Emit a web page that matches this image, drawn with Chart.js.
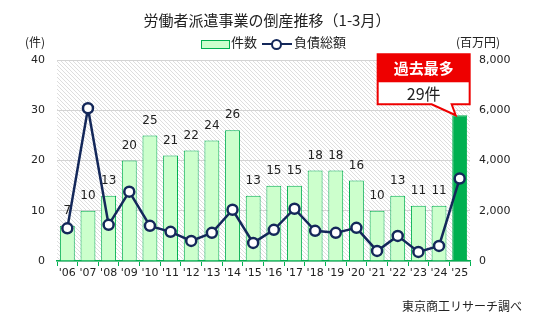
<!DOCTYPE html>
<html>
<head>
<meta charset="utf-8">
<script src="https://cdn.jsdelivr.net/npm/chart.js@4"></script>
<style>
  body { margin: 0; background: #fff; }
  #wrap { position: relative; width: 538px; height: 322px; overflow: hidden; font-family: "Noto Sans CJK JP", "DejaVu Sans", sans-serif; color: #222; }
  #chart { position: absolute; left: 0; top: 0; }
  .txt { position: absolute; white-space: nowrap; line-height: 1; }
  #title { left: 0; width: 534px; top: 12px; text-align: center; font-size: 15px; }
  #unitL { left: 25px; top: 36px; font-size: 12px; }
  #unitR { left: 456px; top: 36px; font-size: 12px; }
  #legend { left: 201px; top: 35px; font-size: 13px; }
  .legBox { position: absolute; left: 0; top: 5px; width: 27px; height: 7px; background: #ccffcc; border: 1px solid #00b050; }
  .legLine { position: absolute; left: 61px; top: 8px; width: 30px; height: 2px; background: #14285a; }
  .legDot { position: absolute; left: 70px; top: 4px; width: 7px; height: 7px; border: 2px solid #14285a; border-radius: 50%; background: #fff; }
  #footer { left: 402px; top: 300px; font-size: 12px; }
</style>
</head>
<body>
<div id="wrap">
  <canvas id="chart" width="538" height="322"></canvas>
  <div class="txt" id="title">労働者派遣事業の倒産推移（1-3月）</div>
  <div class="txt" id="unitL">(件)</div>
  <div class="txt" id="unitR">(百万円)</div>
  <div class="txt" id="legend">
    <span class="legBox"></span><span style="position:absolute;left:30px;top:0">件数</span>
    <span class="legLine"></span><span class="legDot"></span><span style="position:absolute;left:93px;top:0">負債総額</span>
  </div>
  <div class="txt" id="footer">東京商工リサーチ調べ</div>
</div>
<script>
const years = ["'06", "'07", "'08", "'09", "'10", "'11", "'12", "'13", "'14", "'15",
               "'16", "'17", "'18", "'19", "'20", "'21", "'22", "'23", "'24", "'25"];
const cases = [7, 10, 13, 20, 25, 21, 22, 24, 26, 13, 15, 15, 18, 18, 16, 10, 13, 11, 11, 29];
const debt = [1300, 6080, 1440, 2760, 1400, 1160, 800, 1120, 2040, 720,
              1240, 2080, 1200, 1120, 1320, 400, 1000, 360, 600, 3280];
const leftTicks = [0, 10, 20, 30, 40];
const rightTicks = [0, 2000, 4000, 6000, 8000];

const COLORS = {
  barFill: '#ccffcc',
  barBorder: '#00b050',
  barLast: '#00b050',
  line: '#14285a',
  grid: '#d4d4d4',
  hatch: '#dedede',
  red: '#ee0000',
  text: '#222'
};

function makeHatch() {
  const c = document.createElement('canvas');
  c.width = 4; c.height = 4;
  const g = c.getContext('2d');
  g.strokeStyle = COLORS.hatch;
  g.lineWidth = 1;
  g.beginPath();
  g.moveTo(-1, -1); g.lineTo(5, 5);
  g.moveTo(-1, 3); g.lineTo(1, 5);
  g.moveTo(3, -1); g.lineTo(5, 1);
  g.stroke();
  return c;
}

// hatched plot background
const hatchBg = {
  id: 'hatchBg',
  beforeDraw(chart) {
    const { ctx, chartArea: a } = chart;
    ctx.save();
    ctx.fillStyle = ctx.createPattern(makeHatch(), 'repeat');
    ctx.fillRect(a.left, a.top, a.right - a.left, a.bottom - a.top);
    ctx.restore();
  }
};

// values above bars + record callout
const barLabels = {
  id: 'barLabels',
  afterDatasetsDraw(chart) {
    const { ctx } = chart;
    const meta = chart.getDatasetMeta(1); // bar dataset
    ctx.save();
    ctx.font = '12px "DejaVu Sans", sans-serif';
    ctx.fillStyle = COLORS.text;
    ctx.textAlign = 'center';
    ctx.textBaseline = 'middle';
    meta.data.forEach((bar, i) => {
      if (i === cases.length - 1) return;
      ctx.fillText(String(cases[i]), bar.x, bar.y - 15);
    });

    const last = meta.data[cases.length - 1];
    const x = last.x, y = last.y;
    const L = x - 82, R = x + 10, T = y - 61, M = y - 33, B = y - 11;
    ctx.beginPath();
    ctx.moveTo(L, T); ctx.lineTo(R, T); ctx.lineTo(R, B);
    ctx.lineTo(x - 8, B); ctx.lineTo(x - 4, y); ctx.lineTo(x - 28, B);
    ctx.lineTo(L, B); ctx.closePath();
    ctx.fillStyle = '#fff';
    ctx.fill();
    ctx.strokeStyle = COLORS.red;
    ctx.lineWidth = 2;
    ctx.stroke();
    ctx.fillStyle = COLORS.red;
    ctx.fillRect(L, T, R - L, M - T);
    ctx.fillStyle = '#fff';
    ctx.font = 'bold 15px "Noto Sans CJK JP", sans-serif';
    ctx.fillText('過去最多', (L + R) / 2, (T + M) / 2);
    ctx.fillStyle = COLORS.text;
    ctx.font = '16px "Noto Sans CJK JP", sans-serif';
    ctx.fillText(cases[cases.length - 1] + '件', (L + R) / 2, (M + B) / 2 + 1);
    ctx.restore();
  }
};

new Chart(document.getElementById('chart').getContext('2d'), {
  data: {
    labels: years,
    datasets: [
      {
        type: 'line',
        label: '負債総額',
        data: debt,
        yAxisID: 'y1',
        borderColor: COLORS.line,
        borderWidth: 2.5,
        pointRadius: 5,
        pointBorderWidth: 2.5,
        pointBackgroundColor: '#fff',
        pointBorderColor: COLORS.line,
        tension: 0,
        order: 0
      },
      {
        type: 'bar',
        label: '件数',
        data: cases,
        yAxisID: 'y',
        backgroundColor: cases.map((v, i) => i === cases.length - 1 ? COLORS.barLast : COLORS.barFill),
        borderColor: COLORS.barBorder,
        borderWidth: 1,
        categoryPercentage: 1,
        barPercentage: 0.72,
        order: 1
      }
    ]
  },
  options: {
    responsive: false,
    animation: false,
    layout: { padding: { top: 60, left: 0, right: 0, bottom: 0 } },
    plugins: { legend: { display: false }, tooltip: { enabled: false } },
    scales: {
      x: {
        offset: true,
        grid: { offset: true, drawOnChartArea: false, color: COLORS.barBorder, tickLength: 5, lineWidth: 1 },
        border: { color: COLORS.barBorder, width: 1.5 },
        ticks: { color: COLORS.text, font: { family: 'DejaVu Sans', size: 11 }, padding: 1, maxRotation: 0, autoSkip: false },
        afterFit(s) { s.height = 61; }
      },
      y: {
        position: 'left',
        min: 0, max: 40,
        afterBuildTicks(s) { s.ticks = leftTicks.map(v => ({ value: v })); },
        grid: { color: COLORS.grid, drawTicks: false },
        border: { display: false },
        ticks: { color: COLORS.text, font: { family: 'DejaVu Sans', size: 11 }, padding: 12 },
        afterFit(s) { s.width = 57; }
      },
      y1: {
        position: 'right',
        min: 0, max: 8000,
        afterBuildTicks(s) { s.ticks = rightTicks.map(v => ({ value: v })); },
        grid: { display: false, drawTicks: false },
        border: { display: false },
        ticks: {
          color: COLORS.text, font: { family: 'DejaVu Sans', size: 11 }, padding: 9,
          callback: v => v.toLocaleString('en-US')
        },
        afterFit(s) { s.width = 68; }
      }
    }
  },
  plugins: [hatchBg, barLabels]
});
</script>
</body>
</html>
